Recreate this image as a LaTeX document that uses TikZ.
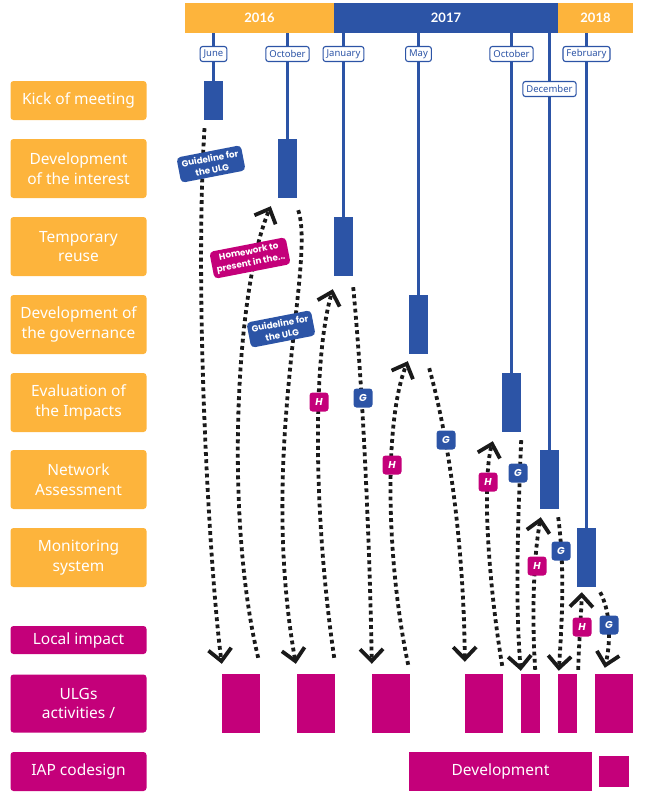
\documentclass[tikz,border=0pt]{standalone}
\usepackage{fontspec}
\setmainfont{Noto Sans}
\newfontfamily\geofont{Poppins}
\newfontfamily\headfont{Lato}
\usetikzlibrary{arrows.meta,calc}

\definecolor{ulgorange}{HTML}{FDB43C}
\definecolor{ulgblue}{HTML}{2C54A6}
\definecolor{ulgmagenta}{HTML}{C4007A}
\definecolor{ink}{HTML}{1A1A1A}

\tikzset{
  yearbar/.style={fill=#1, text=white, inner sep=0pt, minimum height=30pt,
    font=\headfont\bfseries\fontsize{13}{15}\selectfont},
  rowbox/.style={fill=#1, rounded corners=3pt, text=white, align=center,
    minimum width=136pt, inner sep=0pt, font=\fontsize{15.5}{19.5}\selectfont},
  phase/.style={fill=ulgblue, minimum width=19pt, minimum height=59pt, inner sep=0pt},
  tline/.style={ulgblue, line width=3pt},
  month/.style={draw=ulgblue, line width=1.1pt, fill=white, rounded corners=2.5pt,
    text=ulgblue, inner xsep=3.5pt, inner ysep=0pt, minimum height=15pt,
    font=\fontsize{9.5}{10}\selectfont},
  act/.style={fill=ulgmagenta, minimum height=59pt, inner sep=0pt},
  flow/.style={ink, line width=3.8pt, dash pattern=on 3.8pt off 3.4pt,
    -{Straight Barb[length=12pt, width=23pt, line width=3.8pt]}},
  note/.style={fill=#1, text=white, rounded corners=4pt, align=center,
    inner xsep=4pt, inner ysep=3.5pt, rotate=11,
    font=\geofont\bfseries\fontsize{8.8}{11.5}\selectfont},
  badge/.style={fill=#1, text=white, rounded corners=3pt, minimum size=19pt,
    inner sep=0pt, font=\geofont\bfseries\itshape\fontsize{10}{11}\selectfont},
}

\begin{document}
\begin{tikzpicture}[x=1pt, y=-1pt]
\useasboundingbox (0,0) rectangle (668,798);

% year header
\node[yearbar=ulgorange, minimum width=149pt] (y16) at (259.5,18) {2016};
\node[yearbar=ulgblue,   minimum width=224pt] (y17) at (446,18)   {2017};
\node[yearbar=ulgorange, minimum width=75pt]  (y18) at (595.5,18) {2018};

% phase bars
\node[phase, minimum height=39pt] (bJun) at (213.5,100.5) {};
\node[phase] (bOct)  at (287.5,168.5) {};
\node[phase] (bJan)  at (343.5,246.5) {};
\node[phase] (bMay)  at (418.5,324.5) {};
\node[phase] (bOct2) at (511.5,402.5) {};
\node[phase] (bDec)  at (549.5,479.5) {};
\node[phase] (bFeb)  at (586.5,557.5) {};

% timeline stems
\foreach \b in {bJun,bOct,bJan,bMay,bOct2,bDec,bFeb}
  \draw[tline] (\b.north |- y16.south) -- (\b.north);

% month tags
\node[month] (mJun)  at (213.5,54) {June};
\node[month] (mOct)  at (287.5,54) {October};
\node[month] (mJan)  at (343.5,54) {January};
\node[month] (mMay)  at (418.5,54) {May};
\node[month] (mOct2) at (511.5,54) {October};
\node[month] (mDec)  at (549.5,89) {December};
\node[month] (mFeb)  at (586.5,54) {February};

% row labels
\node[rowbox=ulgorange, minimum height=39pt] (rKick) at (78.5,100.5) {Kick of meeting};
\node[rowbox=ulgorange, minimum height=59pt] (rInt)  at (78.5,168.5) {Development\\of the interest};
\node[rowbox=ulgorange, minimum height=59pt] (rTemp) at (78.5,246.5) {Temporary\\reuse};
\node[rowbox=ulgorange, minimum height=59pt] (rGov)  at (78.5,324.5) {Development of\\the governance};
\node[rowbox=ulgorange, minimum height=59pt] (rEval) at (78.5,402.5) {Evaluation of\\the Impacts};
\node[rowbox=ulgorange, minimum height=59pt] (rNet)  at (78.5,479.5) {Network\\Assessment};
\node[rowbox=ulgorange, minimum height=59pt] (rMon)  at (78.5,557.5) {Monitoring\\system};
\node[rowbox=ulgmagenta, minimum height=28pt] (rLoc) at (78.5,640)   {Local impact};
\node[rowbox=ulgmagenta, minimum height=58pt] (rULG) at (78.5,703.5) {ULGs\\activities /};
\node[rowbox=ulgmagenta, minimum height=39pt] (rIAP) at (78.5,771.5) {IAP codesign};

% ULG activity blocks
\node[act, minimum width=38pt] (a1) at (241,703.5)   {};
\node[act, minimum width=38pt] (a2) at (316,703.5)   {};
\node[act, minimum width=38pt] (a3) at (391,703.5)   {};
\node[act, minimum width=38pt] (a4) at (484,703.5)   {};
\node[act, minimum width=19pt] (a5) at (530.5,703.5) {};
\node[act, minimum width=19pt] (a6) at (567.5,703.5) {};
\node[act, minimum width=38pt] (a7) at (614,703.5)   {};

% IAP codesign
\node[fill=ulgmagenta, text=white, minimum width=183pt, minimum height=39pt, inner sep=0pt,
      font=\fontsize{15.5}{18}\selectfont] (dev) at (500.5,771.5) {Development};
\node[fill=ulgmagenta, minimum width=30pt, minimum height=31pt, inner sep=0pt] (devsq) at (614,771.5) {};

% exchanges between phases and ULG activities
\draw[flow] ($(bJun.south)+(-9,8)$) .. controls (194,300) and (210,575) .. ($(a1.north west)+(0,-10)$);
\draw[flow] ($(a1.north east)+(-2,-16)$) .. controls (225,520) and (235,290) .. ($(bOct.south west)+(-7,8)$);
\draw[flow] ($(bOct.south east)+(1,12)$) .. controls (316,262) and (258,450) .. ($(a2.north west)+(-1,-10)$);
\draw[flow] ($(a2.north east)+(-1,-16)$) .. controls (314,520) and (312,360) .. ($(bJan.south west)+(-1,13)$);
\draw[flow] ($(bJan.south east)+(0,11)$) .. controls (364,400) and (370,560) .. ($(a3.north west)+(0,-10)$);
\draw[flow] ($(a3.north east)+(-2,-9)$) .. controls (386,560) and (384,420) .. ($(bMay.south west)+(-1,7)$);
\draw[flow] ($(bMay.south east)+(1,14)$) .. controls (452,450) and (464,560) .. ($(a4.north west)+(0,-12)$);
\draw[flow] ($(a4.north east)+(-1,-8)$) .. controls (488,580) and (482,480) .. ($(bOct2.south west)+(-9,9)$);
\draw[flow] ($(bOct2.south east)+(0,8)$) .. controls (518,520) and (515,600) .. ($(a5.north west)+(0,-3)$);
\draw[flow] ($(a5.north east)+(-5,-4)$) .. controls (532,620) and (533,560) .. ($(bDec.south west)+(1,8)$);
\draw[flow] ($(bDec.south east)+(-1,8)$) .. controls (565,570) and (562,620) .. ($(a6.north west)+(1,-3)$);
\draw[flow] ($(a6.north east)+(1,-4)$) .. controls (579,640) and (581,620) .. ($(bFeb.south west)+(5,5)$);
\draw[flow] ($(bFeb.south east)+(4,5)$) .. controls (612,615) and (610,645) .. ($(a7.north west)+(10,-6)$);

% notes on the exchanges
\node[note=ulgblue]    (n1) at (211,164) {Guideline for\\the ULG};
\node[note=ulgmagenta] (n2) at (250,258) {Homework to\\present in the...};
\node[note=ulgblue]    (n3) at (281,329) {Guideline for\\the ULG};

\node[badge=ulgmagenta] (h1) at (319,402) {H};
\node[badge=ulgblue]    (g1) at (363,398) {G};
\node[badge=ulgmagenta] (h2) at (392,465) {H};
\node[badge=ulgblue]    (g2) at (446,440) {G};
\node[badge=ulgmagenta] (h3) at (488,482) {H};
\node[badge=ulgblue]    (g3) at (518,473) {G};
\node[badge=ulgmagenta] (h4) at (537,566) {H};
\node[badge=ulgblue]    (g4) at (561,551) {G};
\node[badge=ulgmagenta] (h5) at (582,627) {H};
\node[badge=ulgblue]    (g5) at (609,625) {G};
\end{tikzpicture}
\end{document}
